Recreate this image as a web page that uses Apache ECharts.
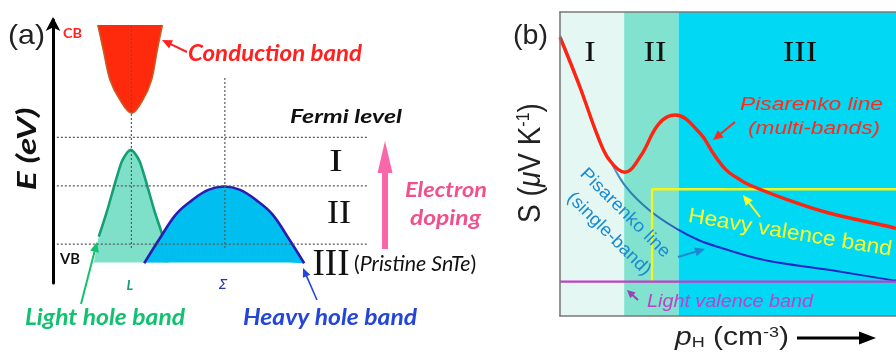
<!DOCTYPE html>
<html><head><meta charset="utf-8">
<script src="https://cdn.jsdelivr.net/npm/echarts@6/dist/echarts.min.js"></script>
<style>html,body{margin:0;padding:0;background:#fff}#c{width:896px;height:353px}</style>
</head><body><div id="c"></div>
<script>
// ---------- Panel (a): schematic band structure (k and E in arbitrary units 0-10) ----------
const cbK = [1.40, 1.57, 1.78, 2.09, 2.46, 2.81, 3.08, 3.26, 3.42];
const cbE = [9.81, 8.86, 7.72, 6.96, 6.45, 6.96, 7.72, 8.86, 9.81];
const cbTopE = 9.81;
const lhK = [1.43, 1.68, 1.93, 2.13, 2.23, 2.33, 2.43, 2.53, 2.63, 2.73, 2.93, 3.18, 3.43, 3.58];
const lhE = [1.76, 2.70, 3.76, 4.56, 4.80, 4.98, 5.06, 4.98, 4.80, 4.56, 3.76, 2.70, 1.76, 0.78];
const lhBaseK = 1.28;
const hhK = [2.85, 3.35, 3.85, 4.35, 4.85, 5.35, 5.85, 6.35, 6.85, 7.35, 7.85];
const hhE = [0.75, 1.72, 2.62, 3.15, 3.54, 3.67, 3.54, 3.15, 2.62, 1.72, 0.75];
const bandBaseE = 0.78;
const levelE = [5.54, 3.69, 1.48];
const levelK = [0.12, 9.84];
const guideK = [2.45, 5.37];
const guideTopE = [9.81, 7.79];
const guideBottomE = 1.33;

// ---------- Panel (b): Seebeck vs carrier concentration (arbitrary units 0-10) ----------
const regionBounds = [0, 1.91, 3.53, 10];
const regionNames = ['I', 'II', 'III'];
const multiX = [0, 0.59, 1.13, 1.47, 1.93, 2.40, 2.94, 3.43, 4.17, 4.56, 4.95, 5.29, 5.64, 7.06, 8.03, 9.88, 10];
const multiS = [9.17, 7.54, 5.90, 5.13, 4.73, 5.26, 6.32, 6.61, 6.01, 5.35, 4.80, 4.53, 4.31, 3.71, 3.38, 2.92, 2.88];
const singleX = [0, 0.59, 1.12, 1.47, 1.97, 2.65, 3.53, 4.12, 4.71, 6.08, 8.04, 9.88, 10];
const singleS = [9.24, 7.60, 5.86, 5.15, 4.24, 3.49, 2.83, 2.50, 2.27, 1.84, 1.51, 1.18, 1.17];
const heavyX = [2.74, 2.74, 10];
const heavyS = [1.13, 4.17, 4.17];
const lightX = [0, 10];
const lightS = [1.13, 1.13];

const zip = (a, b) => a.map((v, i) => [v, b[i]]);

const chart = echarts.init(document.getElementById('c'), null, {renderer: 'canvas'});

const dashStyle = {color: '#5a5a5a', width: 1.2, type: [2, 2]};
const series = [];
// Panel a
series.push({type: 'line', xAxisIndex: 0, yAxisIndex: 0, data: zip(cbK, cbE), smooth: 0.35, showSymbol: false, z: 2,
  lineStyle: {color: '#c0602a', width: 1.5}, areaStyle: {color: '#ff2a0c', opacity: 1, origin: cbTopE}});
series.push({type: 'line', xAxisIndex: 0, yAxisIndex: 0, data: [[lhBaseK, bandBaseE]].concat(zip(lhK, lhE)), smooth: 0.3, showSymbol: false, z: 2,
  lineStyle: {width: 0, opacity: 0}, areaStyle: {color: '#7fe0c9', opacity: 1, origin: bandBaseE}});
series.push({type: 'line', xAxisIndex: 0, yAxisIndex: 0, data: zip(lhK, lhE), smooth: 0.3, showSymbol: false, z: 3,
  lineStyle: {color: '#14a072', width: 2.6}});
series.push({type: 'line', xAxisIndex: 0, yAxisIndex: 0, data: zip(hhK, hhE), smooth: 0.4, showSymbol: false, z: 4,
  lineStyle: {color: '#2a1cb0', width: 2.6}, areaStyle: {color: '#00bff0', opacity: 1, origin: bandBaseE}});
levelE.forEach(e => series.push({type: 'line', xAxisIndex: 0, yAxisIndex: 0, data: levelK.map(k => [k, e]), showSymbol: false, z: 6, lineStyle: dashStyle}));
guideK.forEach((k, i) => series.push({type: 'line', xAxisIndex: 0, yAxisIndex: 0, data: [[k, guideBottomE], [k, guideTopE[i]]], showSymbol: false, z: 6, lineStyle: dashStyle}));

// Panel b
const regionColors = ['#e5f7f3', '#80e2cf', '#00d8f4'];
series.push({type: 'line', xAxisIndex: 1, yAxisIndex: 1, data: [], z: 1, silent: true,
  markArea: {silent: true, data: regionNames.map((n, i) => [{xAxis: regionBounds[i], itemStyle: {color: regionColors[i], opacity: 1}}, {xAxis: regionBounds[i + 1]}])}});
series.push({type: 'line', xAxisIndex: 1, yAxisIndex: 1, data: zip(singleX, singleS), smooth: 0.4, showSymbol: false, z: 3,
  lineStyle: {width: 2, color: new echarts.graphic.LinearGradient(0, 0, 1, 0, [
    {offset: 0, color: '#a8a8ec'}, {offset: 0.14, color: '#a0a0e4'}, {offset: 0.19, color: '#2f86b8'},
    {offset: 0.33, color: '#2a6cb8'}, {offset: 0.37, color: '#2430c8'}, {offset: 1, color: '#2222c0'}])}});
series.push({type: 'line', xAxisIndex: 1, yAxisIndex: 1, data: zip(heavyX, heavyS), showSymbol: false, z: 3,
  lineStyle: {color: '#f4f41e', width: 2.4}});
series.push({type: 'line', xAxisIndex: 1, yAxisIndex: 1, data: zip(lightX, lightS), showSymbol: false, z: 3,
  lineStyle: {color: '#c23ec6', width: 2.2}});
series.push({type: 'line', xAxisIndex: 1, yAxisIndex: 1, data: zip(multiX, multiS), smooth: 0.4, showSymbol: false, z: 4,
  lineStyle: {color: '#ff2410', width: 3.4}});

const hidden = {show: false};
const borderLine = {show: true, lineStyle: {color: '#7a7a7a', width: 1.6}};
const option = {
  animation: false,
  backgroundColor: '#ffffff',
  grid: [
    {left: 53, top: 20, width: 320, height: 263},
    {left: 560, top: 12, width: 340, height: 304}
  ],
  xAxis: [
    {type: 'value', gridIndex: 0, min: 0, max: 10, show: false},
    {type: 'value', gridIndex: 1, min: 0, max: 10, z: 10, axisLine: borderLine, axisTick: hidden, axisLabel: hidden, splitLine: hidden},
    {type: 'value', gridIndex: 1, min: 0, max: 10, position: 'top', z: 10, axisLine: borderLine, axisTick: hidden, axisLabel: hidden, splitLine: hidden}
  ],
  yAxis: [
    {type: 'value', gridIndex: 0, min: 0, max: 10, z: 10,
      axisLine: {show: true, symbol: ['none', 'arrow'], symbolSize: [11, 14], symbolOffset: [0, 3], lineStyle: {color: '#000', width: 3}},
      axisTick: hidden, axisLabel: hidden, splitLine: hidden},
    {type: 'value', gridIndex: 1, min: 0, max: 10, z: 10, axisLine: borderLine, axisTick: hidden, axisLabel: hidden, splitLine: hidden}
  ],
  series: series
};
chart.setOption(option);

// ---------- Annotations (text and arrows) ----------
const mctx = document.createElement('canvas').getContext('2d');
function fit(text, o) {
  const style = o.style || 'normal', weight = o.weight || 'normal';
  mctx.font = style + ' ' + weight + ' ' + o.size + 'px ' + o.family;
  const nat = mctx.measureText(text).width;
  const s = o.w ? o.w / nat : (o.sx || 1);
  return {type: 'text', x: o.x, y: o.y, rotation: o.rot || 0, scaleX: s, scaleY: o.sy || 1, z: 100,
    style: {text: text, fontSize: o.size, fontFamily: o.family, fontWeight: weight, fontStyle: style,
      fill: o.color, align: o.align || 'left', verticalAlign: 'middle'}};
}
function arrow(x1, y1, x2, y2, color, w, hl, hw) {
  const a = Math.atan2(y2 - y1, x2 - x1);
  const bx = x2 - hl * Math.cos(a), by = y2 - hl * Math.sin(a);
  const px = -Math.sin(a) * hw / 2, py = Math.cos(a) * hw / 2;
  return [
    {type: 'line', z: 100, shape: {x1: x1, y1: y1, x2: bx + Math.cos(a) * 1, y2: by + Math.sin(a) * 1}, style: {stroke: color, lineWidth: w}},
    {type: 'polygon', z: 100, shape: {points: [[x2, y2], [bx + px, by + py], [bx - px, by - py]]}, style: {fill: color}}
  ];
}
const LATO = 'Lato', ARIAL = 'Liberation Sans', TIMES = 'Liberation Serif';
const g = [];
// panel a texts
g.push(fit('(a)', {x: 8, y: 36, size: 28, family: ARIAL, color: '#222', w: 37}));
g.push(fit('CB', {x: 63, y: 33, size: 14, family: LATO, weight: 'bold', color: '#ff2020', w: 19}));
g.push(fit('VB', {x: 60, y: 259, size: 15, family: LATO, weight: 'bold', color: '#111', w: 20}));
g.push(fit('L', {x: 130, y: 285, size: 14, family: LATO, weight: 'bold', style: 'italic', color: '#1a9a7a', align: 'center'}));
g.push(fit('Σ', {x: 223, y: 285, size: 14, family: 'DejaVu Sans', style: 'italic', color: '#2838a8', align: 'center'}));
g.push(fit('E (eV)', {x: 28, y: 149, size: 25, family: LATO, weight: 'bold', style: 'italic', color: '#111', align: 'center', rot: Math.PI / 2, w: 83, sy: 1.05}));
g.push(fit('Conduction band', {x: 188, y: 54, size: 23, family: LATO, weight: 'bold', style: 'italic', color: '#ff2020', w: 174}));
g.push(fit('Fermi level', {x: 290, y: 117, size: 19, family: LATO, weight: 'bold', style: 'italic', color: '#111', w: 112}));
g.push(fit('Electron', {x: 405, y: 190, size: 21, family: LATO, weight: 'bold', style: 'italic', color: '#f0508c', w: 82}));
g.push(fit('doping', {x: 410, y: 218, size: 21, family: LATO, weight: 'bold', style: 'italic', color: '#f0508c', w: 71}));
g.push(fit('Light hole band', {x: 25, y: 318, size: 23, family: LATO, weight: 'bold', style: 'italic', color: '#12c070', w: 160}));
g.push(fit('Heavy hole band', {x: 243, y: 318, size: 23, family: LATO, weight: 'bold', style: 'italic', color: '#2446d8', w: 174}));
g.push(fit('I', {x: 336, y: 163, size: 32, family: TIMES, color: '#111', align: 'center', sx: 1.3}));
g.push(fit('II', {x: 339, y: 214, size: 33, family: TIMES, color: '#111', align: 'center', sx: 1.1}));
g.push(fit('III', {x: 331, y: 265, size: 37, family: TIMES, color: '#111', align: 'center', sx: 1.0}));
g.push({type: 'text', x: 354, y: 264, z: 100, scaleX: 1.02, style: {
  text: '{p|(}{i|Pristine SnTe}{p|)}', verticalAlign: 'middle', align: 'left',
  rich: {p: {fontSize: 21, fontFamily: LATO, fill: '#111'}, i: {fontSize: 21, fontFamily: LATO, fontStyle: 'italic', fill: '#111'}}}});
// panel a arrows
g.push(...arrow(187, 52, 162, 40, '#ff2020', 2, 10, 9));
g.push(...arrow(81, 304, 97, 242, '#12c070', 2, 10, 9));
g.push(...arrow(317, 300, 303, 268, '#2446d8', 1.6, 9, 8));
g.push(...arrow(385, 249, 385, 141, '#f868a8', 6, 32, 15));

// panel b texts
g.push(fit('(b)', {x: 513, y: 36, size: 28, family: ARIAL, color: '#222', w: 35}));
['I', 'II', 'III'].forEach((t, i) => g.push(fit(t, {x: [590, 655, 800][i], y: 53, size: 30, family: TIMES, color: '#111', align: 'center', sx: 1.15})));
g.push(fit('Pisarenko line', {x: 740, y: 105, size: 19, family: ARIAL, style: 'italic', color: '#ff2a1a', w: 143}));
g.push(fit('(multi-bands)', {x: 748, y: 129, size: 19, family: ARIAL, style: 'italic', color: '#ff2a1a', w: 132}));
g.push(fit('Pisarenko line', {x: 625, y: 213, size: 18, family: ARIAL, color: '#1a8ad0', align: 'center', rot: -0.78, sx: 1.05}));
g.push(fit('(single-band)', {x: 609, y: 234, size: 18, family: ARIAL, color: '#1a8ad0', align: 'center', rot: -0.78, sx: 1.05}));
g.push(fit('Heavy valence band', {x: 790, y: 233, size: 21, family: ARIAL, color: '#ffff2a', align: 'center', rot: -0.165, w: 206}));
g.push(fit('Light valence band', {x: 647, y: 302, size: 18, family: ARIAL, style: 'italic', color: '#c040c8', w: 166}));
g.push({type: 'text', x: 531, y: 163, rotation: Math.PI / 2, scaleY: 1.15, z: 100, style: {
  text: '{a|S (}{m|μ}{a|V K}{s|-1}{a|)}', align: 'center', verticalAlign: 'middle',
  rich: {a: {fontSize: 28, fontFamily: ARIAL, fill: '#222'}, m: {fontSize: 28, fontFamily: ARIAL, fontStyle: 'italic', fill: '#222'},
    s: {fontSize: 16, fontFamily: ARIAL, fill: '#222', verticalAlign: 'top'}}}});
g.push({type: 'text', x: 675, y: 338, scaleX: 1.2, z: 100, style: {
  text: '{p|p}{h|H}{a| (cm}{s|-3}{a|)}', align: 'left', verticalAlign: 'middle',
  rich: {p: {fontSize: 25, fontFamily: ARIAL, fontStyle: 'italic', fill: '#222'}, h: {fontSize: 15, fontFamily: ARIAL, fill: '#222', verticalAlign: 'bottom'},
    a: {fontSize: 25, fontFamily: ARIAL, fill: '#222'}, s: {fontSize: 15, fontFamily: ARIAL, fill: '#222', verticalAlign: 'top'}}}});
// panel b arrows
g.push(...arrow(735, 122, 713, 140, '#ff2a1a', 2, 10, 9));
g.push(...arrow(678, 257, 705, 249, '#1a8ad0', 2, 10, 9));
g.push(...arrow(760, 217, 743, 195, '#ffff2a', 2, 10, 9));
g.push(...arrow(638, 300, 627, 290, '#a040b0', 2, 8, 8));
g.push(...arrow(797, 338, 876, 338, '#000', 3.2, 17, 13));

chart.setOption({graphic: {elements: g}});
</script>
</body></html>
